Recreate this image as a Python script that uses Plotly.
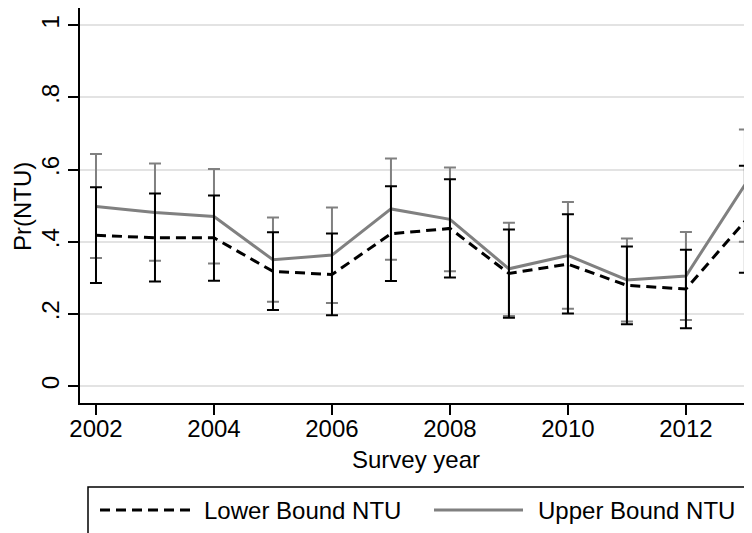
import plotly.graph_objects as go

years = list(range(2002, 2014))

lower_est = [0.418, 0.411, 0.411, 0.318, 0.309, 0.422, 0.437, 0.312, 0.338, 0.279, 0.269, 0.457]
lower_hi = [0.551, 0.534, 0.528, 0.426, 0.423, 0.554, 0.573, 0.434, 0.476, 0.387, 0.378, 0.611]
lower_lo = [0.286, 0.290, 0.292, 0.211, 0.196, 0.291, 0.301, 0.189, 0.201, 0.171, 0.160, 0.314]

upper_est = [0.498, 0.481, 0.470, 0.350, 0.363, 0.491, 0.462, 0.325, 0.362, 0.294, 0.305, 0.558]
upper_hi = [0.643, 0.617, 0.602, 0.467, 0.495, 0.631, 0.606, 0.453, 0.510, 0.409, 0.427, 0.711]
upper_lo = [0.355, 0.347, 0.340, 0.234, 0.230, 0.350, 0.318, 0.194, 0.214, 0.179, 0.183, 0.400]

y_ticks = [0, 0.2, 0.4, 0.6, 0.8, 1]
y_labels = ["0", ".2", ".4", ".6", ".8", "1"]
x_ticks = [2002, 2004, 2006, 2008, 2010, 2012]

FONT = "Liberation Sans, Arial, sans-serif"
DASH = "10px,6px"
# figure is 744x525 (page body adds an 8px margin); plot area 672x395 at (72, 0)
W, H, L, T, PW, PH = 744, 525, 72, 0, 672, 395


def px(x, y):
    # figure pixels -> paper coords
    return (x - L) / PW, (T + PH - y) / PH


def err(est, hi, lo, color):
    return dict(type="data", symmetric=False,
                array=[h - e for h, e in zip(hi, est)],
                arrayminus=[e - l for e, l in zip(est, lo)],
                color=color, thickness=2, width=6)


fig = go.Figure()
fig.add_trace(go.Scatter(x=years, y=upper_est, mode="lines", name="Upper Bound NTU",
                         line=dict(color="#808080", width=3), cliponaxis=False,
                         error_y=err(upper_est, upper_hi, upper_lo, "#808080")))
fig.add_trace(go.Scatter(x=years, y=lower_est, mode="lines", name="Lower Bound NTU",
                         line=dict(color="black", width=3, dash=DASH), cliponaxis=False,
                         error_y=err(lower_est, lower_hi, lower_lo, "black")))

# legend drawn by hand (Stata style: long samples, box below the plot)
shapes = []
annotations = []
x0, y0 = px(80, 479)
x1, y1 = px(760, 560)
shapes.append(dict(type="rect", xref="paper", yref="paper", x0=x0, y0=y1, x1=x1, y1=y0,
                   line=dict(color="black", width=1.5), fillcolor="white"))
ax0, ay = px(92, 502)
ax1, _ = px(182, 502)
shapes.append(dict(type="line", xref="paper", yref="paper", x0=ax0, x1=ax1, y0=ay, y1=ay,
                   line=dict(color="black", width=3, dash=DASH)))
bx0, _ = px(426, 502)
bx1, _ = px(515, 502)
shapes.append(dict(type="line", xref="paper", yref="paper", x0=bx0, x1=bx1, y0=ay, y1=ay,
                   line=dict(color="#808080", width=3)))
tx, _ = px(194, 502)
annotations.append(dict(text="Lower Bound NTU", xref="paper", yref="paper", x=tx, y=ay,
                        xanchor="left", yanchor="middle", showarrow=False))
tx, _ = px(528, 502)
annotations.append(dict(text="Upper Bound NTU", xref="paper", yref="paper", x=tx, y=ay,
                        xanchor="left", yanchor="middle", showarrow=False))
tx, ty = px(0, 452)
annotations.append(dict(text="Survey year", xref="paper", yref="paper", x=0.5, y=ty,
                        xanchor="center", yanchor="middle", showarrow=False))
tx, ty = px(14, 199)
annotations.append(dict(text="Pr(NTU)", xref="paper", yref="paper", x=tx, y=ty,
                        xanchor="center", yanchor="middle", textangle=-90, showarrow=False))

fig.update_layout(
    width=W, height=H,
    margin=dict(l=L, r=0, t=T, b=H - T - PH, autoexpand=False),
    paper_bgcolor="white", plot_bgcolor="white",
    font=dict(family=FONT, size=24, color="black"),
    showlegend=False, shapes=shapes, annotations=annotations,
)
fig.update_xaxes(range=[2001.729, 2013.12], tickvals=x_ticks, showgrid=False,
                 showline=True, mirror=True, linecolor="black", linewidth=1.5,
                 ticks="outside", ticklen=10, tickcolor="black", tickwidth=1.5,
                 ticklabelstandoff=-7, zeroline=False)
fig.update_yaxes(range=[-0.047, 1.048], tickvals=y_ticks, ticktext=y_labels,
                 tickangle=-90, showgrid=True, gridcolor="#e3e3e3", gridwidth=2,
                 zeroline=False, showline=True, mirror=True, linecolor="black", linewidth=1.5,
                 ticks="outside", ticklen=10, tickcolor="black", tickwidth=1.5)

fig.write_html("out.html")
